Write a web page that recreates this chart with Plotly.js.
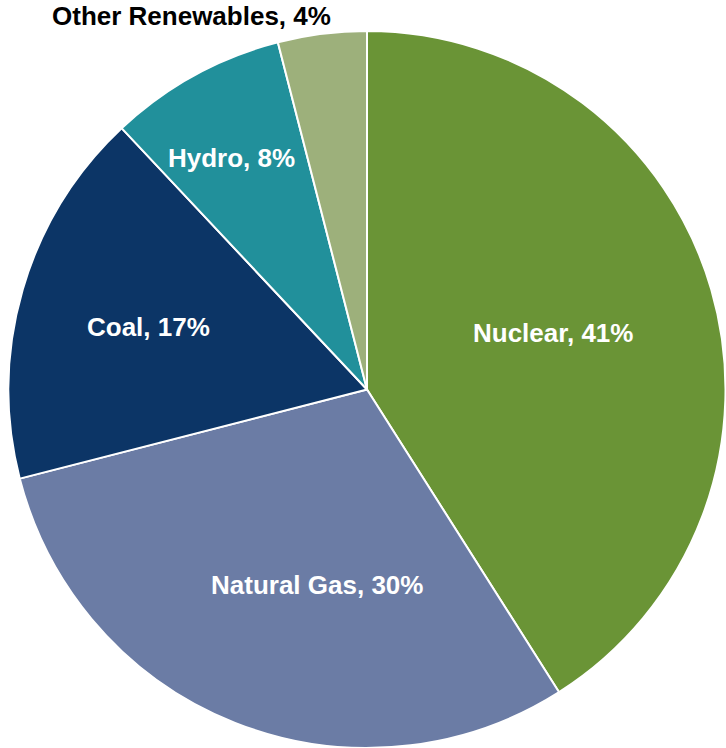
<!DOCTYPE html>
<html>
<head>
<meta charset="utf-8">
<script src="https://cdn.plot.ly/plotly-3.0.1.min.js"></script>
<style>html,body{margin:0;padding:0;background:#fff;}#chart{width:726px;height:748px;}</style>
</head>
<body>
<div id="chart"></div>
<script>
const labels = ["Nuclear", "Natural Gas", "Coal", "Hydro", "Other Renewables"];
const values = [41, 30, 17, 8, 4];
const colors = ["#6A9436", "#6B7CA5", "#0C3566", "#21909B", "#9DB07B"];
const labelColors = ["#ffffff", "#ffffff", "#ffffff", "#ffffff", "#000000"];
// label anchor positions (pixels in 726x748 frame)
const labelPx = [[553, 333], [317, 585], [148, 327], [231, 158], [191, 16]];

const W = 726, H = 748;
const annotations = labels.map((l, i) => ({
  text: l + ", " + values[i] + "%",
  x: labelPx[i][0] / W,
  y: 1 - labelPx[i][1] / H,
  xref: "paper", yref: "paper",
  xanchor: "center", yanchor: "middle",
  showarrow: false,
  font: {family: "Liberation Sans, Arial, sans-serif", size: 26, color: labelColors[i], weight: "bold"}
}));
annotations.forEach(a => { a.text = "<b>" + a.text + "</b>"; });

Plotly.newPlot("chart", [{
  type: "pie",
  labels: labels,
  values: values,
  sort: false,
  direction: "clockwise",
  rotation: 0,
  textinfo: "none",
  hoverinfo: "label+percent",
  marker: {colors: colors, line: {color: "#ffffff", width: 2}},
  domain: {x: [8 / W, 1], y: [0, 1 - 31 / H]}
}], {
  width: W, height: H,
  margin: {l: 0, r: 0, t: 0, b: 0},
  showlegend: false,
  paper_bgcolor: "#ffffff",
  annotations: annotations
}, {displayModeBar: false, staticPlot: true});
</script>
</body>
</html>
